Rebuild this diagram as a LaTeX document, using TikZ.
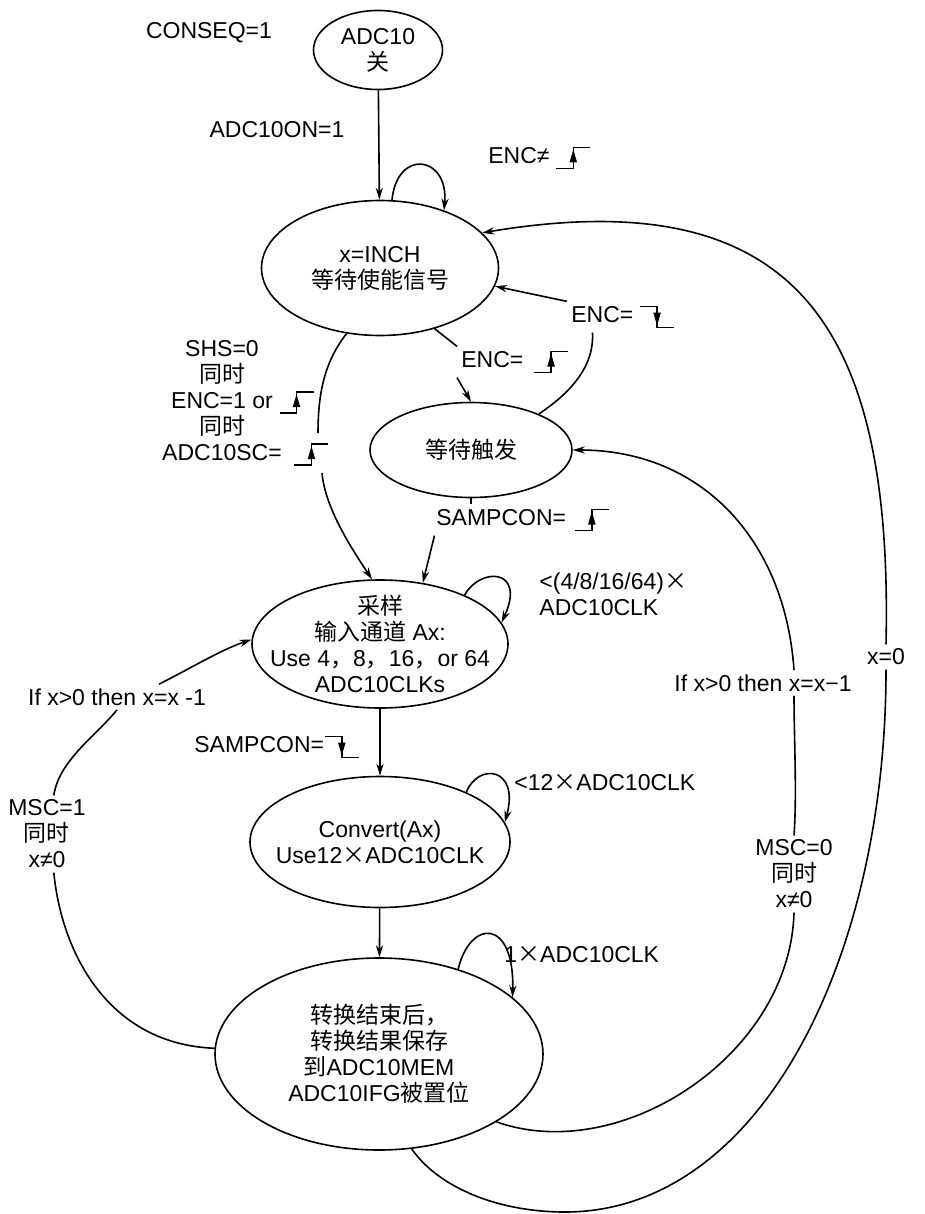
\documentclass[tikz,border=0pt]{standalone}
\usepackage{fontspec}
\setmainfont{Liberation Sans}
\newfontfamily\cjk{Noto Sans CJK SC}
\usepackage{tikz}
\usetikzlibrary{shapes.geometric, arrows.meta, calc}
\newcommand{\zh}[1]{{\cjk #1}}
\newcommand{\figfont}{\fontsize{11.5}{13}\selectfont}
% small edge symbols used in the labels
\newcommand{\edgeup}{\tikz[baseline=0pt,x=1pt,y=1pt,line width=0.7pt]{%
  \draw (0,-2.5) -- (8.5,-2.5) -- (8.5,8) -- (17,8);
  \fill (8.5,7) -- (6.6,0.5) -- (10.4,0.5) -- cycle;}}
\newcommand{\edgedown}{\tikz[baseline=0pt,x=1pt,y=1pt,line width=0.7pt]{%
  \draw (0,8) -- (8.5,8) -- (8.5,-2.5) -- (17,-2.5);
  \fill (8.5,-1.5) -- (6.6,5) -- (10.4,5) -- cycle;}}
\tikzset{
  state/.style={ellipse, draw, line width=0.8pt, inner sep=0pt},
  stext/.style={align=center, inner sep=0pt, font=\figfont},
  lbl/.style={inner sep=2pt, align=center, font=\figfont},
  arr/.style={-{Stealth[length=6pt,width=3.6pt]}, line width=0.8pt},
  line/.style={line width=0.8pt}
}

\begin{document}
\begin{tikzpicture}[x=0.5pt, y=-0.5pt]
  \path[fill=white, use as bounding box] (0,0) rectangle (925,1214);

  % states
  \node[state, minimum width=64.5pt, minimum height=39.5pt] (off) at (378,50) {};
  \node[state, minimum width=118.5pt, minimum height=67.5pt] (idle) at (380,268) {};
  \node[state, minimum width=101pt, minimum height=47.5pt] (wait) at (471,450) {};
  \node[state, minimum width=128pt, minimum height=64pt] (sample) at (380,644) {};
  \node[state, minimum width=130pt, minimum height=65.5pt] (conv) at (380,842) {};
  \node[state, minimum width=164pt, minimum height=96pt] (done) at (379,1054) {};

  \node[stext] (offtxt) at (off) {ADC10\\\zh{关}};
  \node[stext] (idletxt) at (idle) {x=INCH\\\zh{等待使能信号}};
  \node[stext] (waittxt) at (wait) {\zh{等待触发}};
  \node[stext] (sampletxt) at (sample) {\zh{采样}\\\zh{输入通道} Ax:\\Use 4\zh{，}8\zh{，}16\zh{，}or 64\\ADC10CLKs};
  \node[stext] (convtxt) at (conv) {Convert(Ax)\\Use12\zh{×}ADC10CLK};
  \node[stext] (donetxt) at (done) {\zh{转换结束后，}\\\zh{转换结果保存}\\\zh{到}ADC10MEM\\ADC10IFG\zh{被置位}};

  % labels
  \node[lbl] (conseq) at (209,33) {CONSEQ=1};
  \node[lbl] (adcon) at (277,130) {ADC10ON=1};
  \node[lbl, anchor=west] (encne) at (484,158) {ENC≠\hspace{3pt}\edgeup};
  \node[lbl, anchor=west] (encf) at (567,317) {ENC=\hspace{3pt}\edgedown};
  \node[lbl, anchor=west] (enr) at (457,362) {ENC=\hspace{5pt}\edgeup};
  \node[lbl] (shs) at (222,403) {SHS=0\\\zh{同时}\\ENC=1 or\rlap{\hspace{3pt}\edgeup}\\\zh{同时}\\ADC10SC=\rlap{\hspace{6pt}\edgeup}};
  \node[lbl, anchor=west] (sampr) at (432,520) {SAMPCON=\hspace{4pt}\edgeup};
  \node[lbl, anchor=west] (sampl) at (190,747) {SAMPCON=\edgedown};
  \node[lbl, anchor=west, align=left] (clk1) at (535,594) {<(4/8/16/64)\zh{×}\\ADC10CLK};
  \node[lbl, anchor=west] (clk2) at (510,783) {<12\zh{×}ADC10CLK};
  \node[lbl, anchor=west] (clk3) at (500,955) {1\zh{×}ADC10CLK};
  \node[lbl] (ifl) at (117,697) {If x>0 then x=x -1};
  \node[lbl] (mscl) at (47,834) {MSC=1\\\zh{同时}\\x≠0};
  \node[lbl] (ifr) at (763,683) {If x>0 then x=x−1};
  \node[lbl] (mscr) at (794,874) {MSC=0\\\zh{同时}\\x≠0};
  \node[lbl] (xz) at (886,657) {x=0};

  \coordinate (shsA) at (318,433);
  \coordinate (shsB) at (322,473);
  \coordinate (bot) at (565,1212);

  % transitions
  \draw[arr] (off) -- (idle);
  \draw[arr] (idle.80) .. controls +(5,-52) and +(5,-55) .. (idle.42);
  \draw[line] (done.-71) .. controls +(28,40) and +(-65,0) .. (bot)
    .. controls +(195,0) and +(0,290) .. (xz.south);
  \draw[arr] (xz.north) .. controls +(7,-315) and +(317,-53) .. (idle.19);
  \draw[line] (wait.28) .. controls +(30,-20) and +(2,35) .. (encf.-153);
  \draw[arr] (encf.north west) -- (idle.-9);
  \draw[line] (idle.-48) -- (enr.north west);
  \draw[arr] (enr.south west) -- (wait.north);
  \draw[line] (idle.-117) .. controls +(-22,28) and +(0,-40) .. (shsA);
  \draw[arr] (shsB) .. controls +(3,35) and +(-20,-30) .. (sample.97);
  \draw[line] (wait.south) -- (wait.south |- sampr.north);
  \draw[arr] (sampr.-170) -- (sample.55);
  \draw[arr] (sample.30) .. controls +(15,-28) and +(25,-55) .. (sample.10);
  \draw[arr] (sample) -- (conv);
  \draw[arr] (conv.30) .. controls +(12,-30) and +(15,-55) .. (conv.9);
  \draw[arr] (conv) -- (done);
  \draw[arr] (done.47) .. controls +(12,-50) and +(2,-80) .. (done.23);
  \draw[line] (done.-30) .. controls +(124,44) and +(-4,143) .. (mscr.south);
  \draw[line] (mscr.north) .. controls +(3,-40) and +(0,40) .. (ifr.south -| mscr.north);
  \draw[arr] (ifr.north -| mscr.north) .. controls +(-9,-131) and +(128,0) .. (wait.east);
  \draw[line] (done.178) .. controls +(-105,-4) and +(8,82) .. (mscl.-80);
  \draw[line] (mscl.80) .. controls +(5,-35) and +(-20,25) .. (ifl.south);
  \draw[arr] (ifl.17) .. controls +(30,-15) and +(-30,10) .. (sample.178);
\end{tikzpicture}
\end{document}
